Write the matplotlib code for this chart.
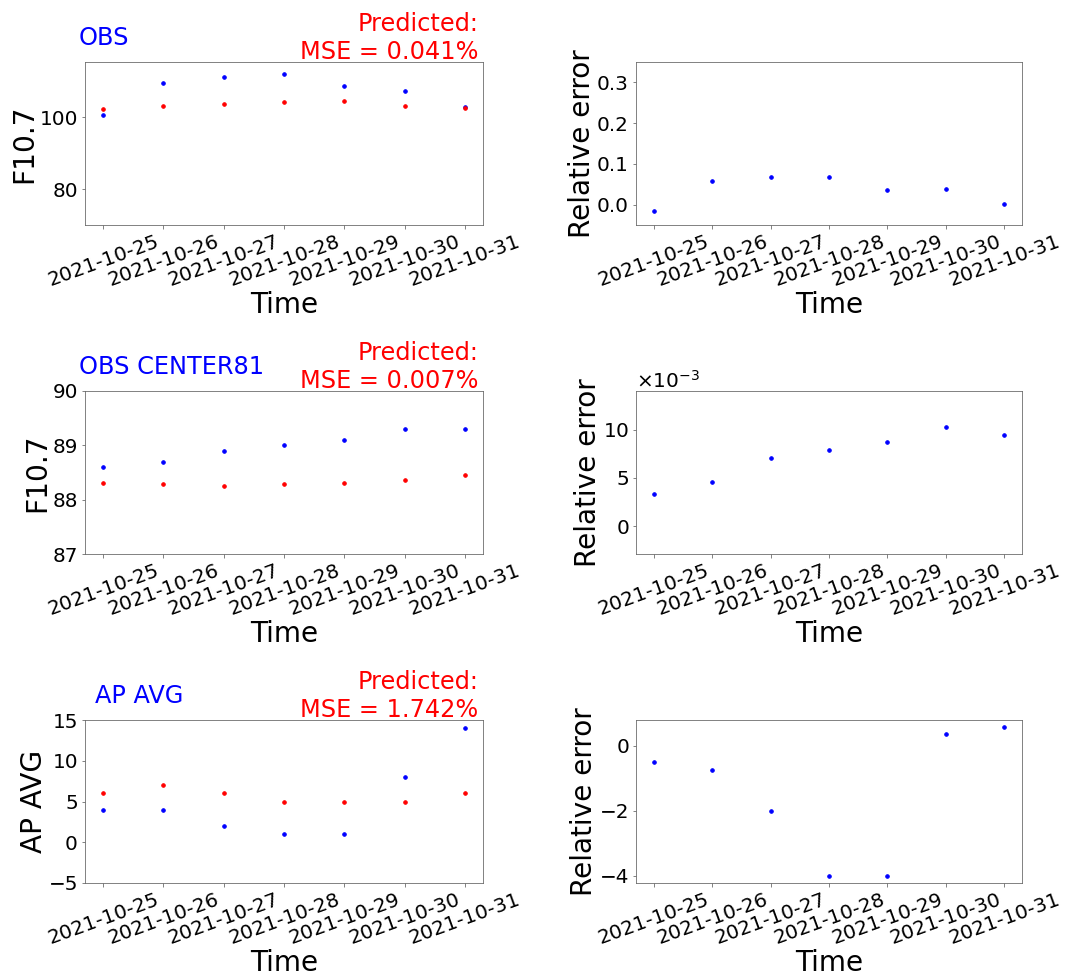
import matplotlib
matplotlib.use("Agg")
import matplotlib.pyplot as plt
import matplotlib.dates as mdates
import pandas as pd

# dates of the week shown
dates = pd.date_range("2021-10-25", "2021-10-31", freq="D")

# F10.7 OBS
obs_f107 = [100.74, 109.6, 111.3, 112.1, 108.65, 107.4, 102.98]
pred_f107 = [102.3, 103.2, 103.6, 104.2, 104.65, 103.2, 102.7]
err_f107 = [-0.016, 0.057, 0.067, 0.068, 0.037, 0.039, 0.002]

# F10.7 OBS CENTER81
obs_c81 = [88.6, 88.7, 88.9, 89.0, 89.1, 89.3, 89.3]
pred_c81 = [88.3, 88.29, 88.26, 88.29, 88.31, 88.37, 88.45]
err_c81 = [0.00333, 0.00455, 0.00705, 0.00788, 0.00868, 0.01028, 0.00944]

# AP AVG
obs_ap = [4, 4, 2, 1, 1, 8, 14]
pred_ap = [6, 7, 6, 5, 5, 5, 6]
err_ap = [-0.5, -0.75, -2.0, -4.0, -4.0, 0.375, 0.571]

rows = [
    ("OBS", "F10.7", obs_f107, pred_f107, err_f107, "0.041%", (70, 115.4), (-0.05, 0.35)),
    ("OBS CENTER81", "F10.7", obs_c81, pred_c81, err_c81, "0.007%", (87, 90), (-0.0029, 0.014)),
    ("AP AVG", "AP AVG", obs_ap, pred_ap, err_ap, "1.742%", (-5, 15), None),
]
title_x = [-0.015, -0.015, 0.025]

plt.rcParams['axes.edgecolor'] = '0.4'
plt.rcParams['xtick.color'] = '0.4'
plt.rcParams['ytick.color'] = '0.4'
plt.rcParams['xtick.labelcolor'] = 'black'
plt.rcParams['ytick.labelcolor'] = 'black'

DPI = 72
W, H = 1079.0, 979.0
fig = plt.figure(figsize=(W / DPI, H / DPI), dpi=DPI)
row_tops = [62, 391, 720]
row_h = 163

def fmt_dates(ax):
    ax.xaxis.set_major_locator(mdates.DayLocator())
    ax.xaxis.set_major_formatter(mdates.DateFormatter("%Y-%m-%d"))
    for lab in ax.get_xticklabels():
        lab.set_rotation(20)
        lab.set_ha("center")
    ax.tick_params(labelsize=20)
    ax.set_xlabel("Time", fontsize=28, labelpad=1)

for i, (name, ylab, obs, pred, err, mse, ylim_l, ylim_r) in enumerate(rows):
    b = 1 - (row_tops[i] + row_h) / H
    h = row_h / H
    # left: observed vs predicted
    ax = fig.add_axes([85 / W, b, 398 / W, h])
    ax.scatter(dates, obs, marker='.', s=50, color='blue')
    ax.scatter(dates, pred, marker='.', s=50, color='red')
    ax.set_ylim(*ylim_l)
    ax.set_ylabel(ylab, fontsize=28, labelpad=1)
    fmt_dates(ax)
    ax.text(title_x[i], 1.102, name, transform=ax.transAxes, color='blue',
            fontsize=24, ha='left', va='baseline')
    ax.text(0.989, 0.987, "Predicted:\nMSE = " + mse, transform=ax.transAxes,
            color='red', fontsize=24, ha='right', va='bottom')

    # right: relative error
    ax2 = fig.add_axes([636 / W, b, 386 / W, h])
    ax2.scatter(dates, err, marker='.', s=50, color='blue')
    if ylim_r is not None:
        ax2.set_ylim(*ylim_r)
    ax2.set_ylabel("Relative error", fontsize=28, labelpad=1)
    fmt_dates(ax2)
    if i == 1:
        ax2.ticklabel_format(axis='y', style='sci', scilimits=(-3, -3), useMathText=True)
        ax2.yaxis.get_offset_text().set_fontsize(20)

fig.savefig("out.png", dpi=DPI)
